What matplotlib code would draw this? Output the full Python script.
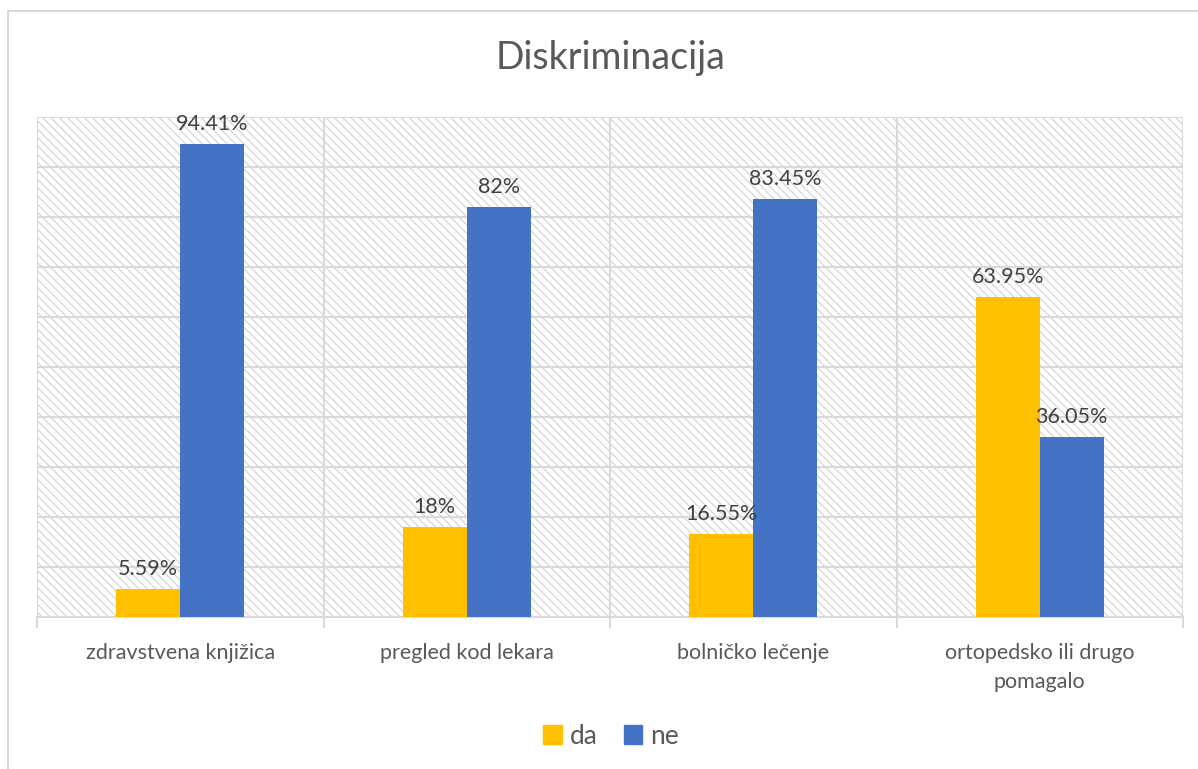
import matplotlib.pyplot as plt
from matplotlib.patches import Rectangle, Patch
import numpy as np

plt.rcParams['font.family'] = ['Lato', 'DejaVu Sans']
plt.rcParams['hatch.linewidth'] = 0.9

categories = ["zdravstvena knjižica", "pregled kod lekara", "bolničko lečenje",
              "ortopedsko ili drugo\npomagalo"]
da_values = [5.59, 18, 16.55, 63.95]
ne_values = [94.41, 82, 83.45, 36.05]
da_labels = ["5.59%", "18%", "16.55%", "63.95%"]
ne_labels = ["94.41%", "82%", "83.45%", "36.05%"]

YELLOW = "#FFC000"
BLUE = "#4472C4"
TEXT = "#595959"
GRID = "#D9D9D9"

fig = plt.figure(figsize=(11.98, 7.69), dpi=100)
fig.patch.set_facecolor("white")

# outer chart frame (left and top edges visible in the crop)
fig.add_artist(plt.Line2D([8 / 1198, 8 / 1198], [0, 1 - 11 / 769], color=GRID, lw=1.5,
                          transform=fig.transFigure))
fig.add_artist(plt.Line2D([8 / 1198, 1], [1 - 11 / 769, 1 - 11 / 769], color=GRID, lw=1.5,
                          transform=fig.transFigure))

ax = fig.add_axes([37 / 1198, 1 - 617 / 769, (1183 - 37) / 1198, (617 - 116.5) / 769])
ax.set_xlim(-0.5, len(categories) - 0.5)
ax.set_ylim(0, 100)

# hatched plot area background
ax.add_patch(Rectangle((0, 0), 1, 1, transform=ax.transAxes, fill=False,
                       hatch="\\\\\\\\", edgecolor="#D6D6D6", lw=0, zorder=0))

for y in np.arange(10, 101, 10):
    ax.axhline(y, color=GRID, lw=1.5, zorder=1)
for x in np.arange(-0.5, len(categories), 1.0):
    ax.axvline(x, color=GRID, lw=1.5, zorder=1)

x = np.arange(len(categories))
w = 0.223
b1 = ax.bar(x - w / 2, da_values, w, color=YELLOW, zorder=3)
b2 = ax.bar(x + w / 2, ne_values, w, color=BLUE, zorder=3)

for bars, labels in ((b1, da_labels), (b2, ne_labels)):
    for rect, lab in zip(bars, labels):
        ax.text(rect.get_x() + rect.get_width() / 2, rect.get_height() + 2.0, lab,
                ha="center", va="bottom", fontsize=15.5, color="#404040", zorder=4)

for s in ax.spines.values():
    s.set_visible(False)
ax.axhline(0, color=GRID, lw=1.5, zorder=2, clip_on=False)

ax.set_yticks([])
ax.set_xticks(np.arange(-0.5, len(categories), 1.0), minor=True)
ax.tick_params(axis="x", which="minor", length=8, width=1.5, color=GRID)
ax.set_xticks(x)
ax.set_xticklabels(categories, fontsize=15.5, color=TEXT, linespacing=1.55)
ax.tick_params(axis="x", which="major", length=0, pad=19)

fig.text(611 / 1198, 1 - 58 / 769, "Diskriminacija", ha="center", va="center",
         fontsize=27, color=TEXT)

handles = [Patch(color=YELLOW, label="da"), Patch(color=BLUE, label="ne")]
fig.legend(handles=handles, loc="center", bbox_to_anchor=(611 / 1198, 1 - 736 / 769),
           ncol=2, frameon=False, fontsize=19, handlelength=0.7, handleheight=0.7,
           handletextpad=0.3, columnspacing=1.0, labelcolor=TEXT)

fig.savefig("out.png", dpi=100, facecolor="white")
